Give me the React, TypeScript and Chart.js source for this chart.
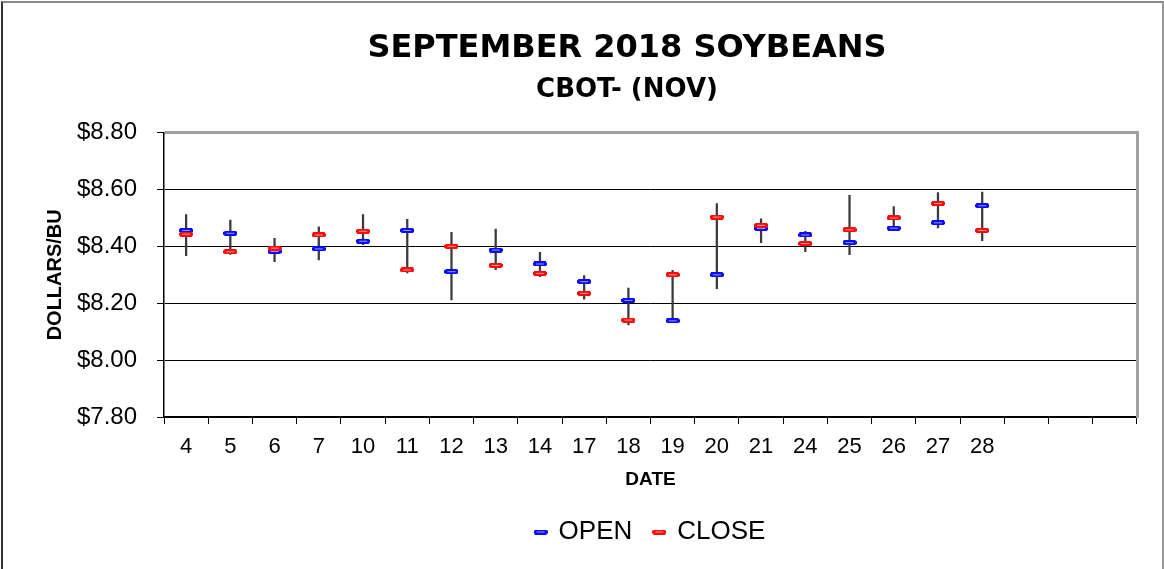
import React, { useEffect, useRef } from 'react';
import { Chart, registerables } from 'chart.js';

Chart.register(...registerables);

// ---- data ----
const dates = ['4', '5', '6', '7', '10', '11', '12', '13', '14', '17', '18', '19', '20', '21', '24', '25', '26', '27', '28', '', '', ''];
const openPrices = [8.456, 8.446, 8.382, 8.391, 8.418, 8.456, 8.311, 8.387, 8.338, 8.276, 8.21, 8.138, 8.3, 8.463, 8.44, 8.413, 8.464, 8.483, 8.543];
const closePrices = [8.443, 8.381, 8.394, 8.44, 8.453, 8.317, 8.4, 8.333, 8.305, 8.235, 8.141, 8.3, 8.503, 8.474, 8.41, 8.458, 8.5, 8.551, 8.456];
const highPrices = [8.512, 8.492, 8.428, 8.469, 8.512, 8.495, 8.449, 8.461, 8.379, 8.297, 8.253, 8.316, 8.55, 8.497, 8.453, 8.579, 8.54, 8.589, 8.591];
const lowPrices = [8.367, 8.372, 8.346, 8.352, 8.406, 8.307, 8.212, 8.318, 8.293, 8.214, 8.124, 8.138, 8.251, 8.413, 8.381, 8.371, 8.464, 8.465, 8.42];
const yMin = 7.8;
const yMax = 8.8;
const yStep = 0.2;

function makeDash(fill: string, inner: string): HTMLCanvasElement {
  const c = document.createElement('canvas');
  c.width = 14;
  c.height = 5;
  const g = c.getContext('2d')!;
  g.fillStyle = fill;
  g.fillRect(0, 0, 14, 5);
  g.clearRect(0, 0, 1, 1);
  g.clearRect(13, 0, 1, 1);
  g.clearRect(0, 4, 1, 1);
  g.clearRect(13, 4, 1, 1);
  g.fillStyle = inner;
  g.fillRect(3, 2, 8, 1);
  return c;
}

// centres the title block over the region used in the reference
const titleSpanPlugin = {
  id: 'titleSpan',
  afterLayout(chart: any) {
    chart.boxes.forEach((b: any) => {
      if (b.position === 'top' && b.options && b.options.text) {
        b.left = 117;
        b.right = 1137;
      }
    });
  },
};

export default function App() {
  const ref = useRef<HTMLCanvasElement | null>(null);

  useEffect(() => {
    if (!ref.current) return;
    const openDash = makeDash('#0a0aff', '#9a9aff');
    const closeDash = makeDash('#ff0a0a', '#ff9a9a');
    const isTop = (c: any) => c.tick && Math.abs(c.tick.value - yMax) < 1e-6;

    const chart = new Chart(ref.current, {
      type: 'bar',
      plugins: [titleSpanPlugin],
      data: {
        labels: dates,
        datasets: [
          {
            type: 'bar',
            label: 'HIGH-LOW',
            data: highPrices.map((h, i) => [lowPrices[i], h]) as any,
            backgroundColor: '#3a3a3a',
            borderWidth: 0,
            barThickness: 1.6,
            order: 3,
          },
          {
            type: 'line',
            label: 'OPEN',
            data: openPrices,
            showLine: false,
            pointStyle: openDash as any,
            pointRadius: 7,
            borderColor: '#0000ff',
            backgroundColor: '#0000ff',
            order: 2,
          },
          {
            type: 'line',
            label: 'CLOSE',
            data: closePrices,
            showLine: false,
            pointStyle: closeDash as any,
            pointRadius: 7,
            borderColor: '#ff0000',
            backgroundColor: '#ff0000',
            order: 1,
          },
        ],
      } as any,
      options: {
        responsive: false,
        animation: false,
        layout: { padding: { left: 0, right: 27, top: 0, bottom: 14 } },
        plugins: {
          title: {
            display: true,
            text: 'SEPTEMBER 2018 SOYBEANS',
            color: '#000',
            font: { family: 'DejaVu Sans', size: 32, weight: 'bold', lineHeight: 1.2 },
            padding: { top: 29, bottom: 0 },
          },
          subtitle: {
            display: true,
            text: 'CBOT- (NOV)',
            color: '#000',
            font: { family: 'DejaVu Sans', size: 26, weight: 'bold', lineHeight: 1.2 },
            padding: { top: 7, bottom: 27 },
          },
          legend: {
            position: 'bottom',
            fullSize: false,
            labels: {
              usePointStyle: true,
              pointStyleWidth: 10,
              color: '#000',
              font: { family: 'Liberation Sans', size: 26 },
              padding: 22,
              filter: (item: any) => item.text !== 'HIGH-LOW',
              sort: (a: any, b: any) => a.datasetIndex - b.datasetIndex,
            },
          },
          tooltip: { enabled: false },
        },
        scales: {
          x: {
            type: 'category',
            offset: true,
            grid: {
              offset: true,
              drawOnChartArea: false,
              drawTicks: true,
              tickLength: 7,
              color: '#000',
              tickColor: '#000',
            },
            border: { color: '#000', width: 1.5 },
            ticks: {
              autoSkip: false,
              maxRotation: 0,
              color: '#000',
              font: { family: 'Liberation Sans', size: 22 },
              padding: 10,
            },
            title: {
              display: true,
              text: 'DATE',
              color: '#000',
              font: { family: 'Liberation Sans', size: 19, weight: 'bold', lineHeight: 1.2 },
              padding: { top: 0, bottom: 6 },
            },
            afterFit: (s: any) => {
              s.height = 80;
            },
          },
          y: {
            type: 'linear',
            min: yMin,
            max: yMax,
            ticks: {
              stepSize: yStep,
              callback: (v: any) => '$' + Number(v).toFixed(2),
              color: '#000',
              font: { family: 'Liberation Sans', size: 24 },
              padding: 20,
            },
            grid: {
              color: (c: any) => (isTop(c) ? '#a0a0a0' : '#000'),
              lineWidth: (c: any) => (isTop(c) ? 3 : 1),
              tickLength: 7,
              tickColor: '#000',
              tickWidth: 1,
            },
            border: { color: '#000', width: 1.5 },
            title: {
              display: true,
              text: 'DOLLARS/BU',
              color: '#000',
              font: { family: 'Liberation Sans', size: 20, weight: 'bold', lineHeight: 1.2 },
              padding: { top: 43, bottom: 0 },
            },
            afterFit: (s: any) => {
              s.width = 164;
            },
          },
          y2: {
            type: 'linear',
            position: 'right',
            display: true,
            grid: { drawOnChartArea: false, drawTicks: false },
            ticks: { display: false },
            border: { color: '#a0a0a0', width: 3 },
            afterFit: (s: any) => {
              s.width = 0;
            },
          },
        },
      } as any,
    });
    return () => chart.destroy();
  }, []);

  return (
    <div>
      <canvas
        ref={ref}
        width={1164}
        height={569}
        style={{ position: 'absolute', left: 0, top: 0, width: 1164, height: 569 }}
      />
      <div
        style={{
          position: 'absolute',
          left: 1,
          top: 1,
          width: 1163,
          height: 570,
          boxSizing: 'border-box',
          borderLeft: '2px solid #333',
          borderTop: '2px solid #888',
          borderRight: '2px solid #999',
          pointerEvents: 'none',
        }}
      />
    </div>
  );
}
